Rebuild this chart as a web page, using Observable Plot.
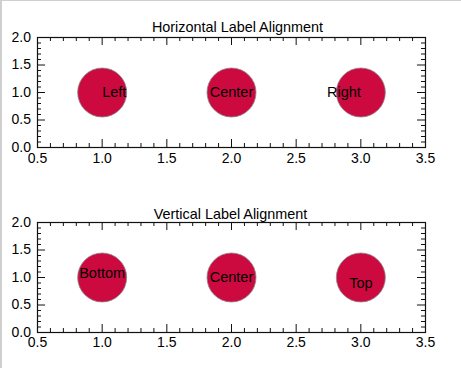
<!DOCTYPE html>
<html><head><meta charset="utf-8">
<script src="https://cdn.jsdelivr.net/npm/d3@7"></script>
<script src="https://cdn.jsdelivr.net/npm/@observablehq/plot@0.6"></script>
<style>
html,body{margin:0;padding:0;background:#fff;}
body{width:461px;height:368px;overflow:hidden;position:relative;}
#chart svg{display:block;}
#edge{position:absolute;left:0;top:0;width:461px;height:368px;box-sizing:border-box;border-top:1px solid #cfcfcf;border-left:2px solid #cfcfcf;pointer-events:none;}
</style></head><body><div id="chart"></div><div id="edge"></div>
<script>
// ---- data ----
const xs = [1.0, 2.0, 3.0];
const ys = [1.0, 1.0, 1.0];
const hLabels = ["Left", "Center", "Right"];
const hAnchors = ["start", "middle", "end"];
const vLabels = ["Bottom", "Center", "Top"];
const vAnchors = ["bottom", "middle", "top"];
const titles = ["Horizontal Label Alignment", "Vertical Label Alignment"];
const xDomain = [0.5, 3.5];
const yDomain = [0.0, 2.0];
const xMajor = [0.5, 1.0, 1.5, 2.0, 2.5, 3.0, 3.5];
const xMinor = [0.6, 0.7, 0.8, 0.9, 1.1, 1.2, 1.3, 1.4, 1.6, 1.7, 1.8, 1.9,
                2.1, 2.2, 2.3, 2.4, 2.6, 2.7, 2.8, 2.9, 3.1, 3.2, 3.3, 3.4];
const yMajor = [0.0, 0.5, 1.0, 1.5, 2.0];
const yMinor = [0.1, 0.2, 0.3, 0.4, 0.6, 0.7, 0.8, 0.9, 1.1, 1.2, 1.3, 1.4,
                1.6, 1.7, 1.8, 1.9];

const FONT = "'Liberation Sans', Arial, Helvetica, sans-serif";
const AX = "#111";
const FILL = "#cc0a40";

function panel(cfg) {
  const W = 461, H = 184;
  const frameH = H - cfg.mt - cfg.mb;
  const frameW = W - cfg.ml - cfg.mr;
  const MAJ = 8, MIN = 4;
  const labelMarks = [];
  for (let i = 0; i < xs.length; i++) {
    labelMarks.push(Plot.text([i], {
      x: j => xs[j], y: j => ys[j], text: j => cfg.labels[j],
      textAnchor: cfg.textAnchors ? cfg.textAnchors[i] : "middle",
      lineAnchor: cfg.lineAnchors ? cfg.lineAnchors[i] : "middle",
      fontSize: 14.5, fill: "#000"
    }));
  }
  return Plot.plot({
    width: W, height: H,
    marginLeft: cfg.ml, marginRight: cfg.mr, marginTop: cfg.mt, marginBottom: cfg.mb,
    style: {fontFamily: FONT, fontSize: "14px", color: "#000", background: "transparent", overflow: "visible"},
    x: {domain: xDomain},
    y: {domain: yDomain},
    marks: [
      Plot.dot(xs.map((x, i) => i), {x: i => xs[i], y: i => ys[i], r: 24.5, fill: FILL, stroke: "#8a8a8a", strokeWidth: 0.8}),
      ...labelMarks,
      // ticks inside the box on all four sides
      Plot.tickX(xMajor, {x: d => d, insetTop: frameH - MAJ, stroke: AX}),
      Plot.tickX(xMinor, {x: d => d, insetTop: frameH - MIN, stroke: AX}),
      Plot.tickX(xMajor, {x: d => d, insetBottom: frameH - MAJ, stroke: AX}),
      Plot.tickX(xMinor, {x: d => d, insetBottom: frameH - MIN, stroke: AX}),
      Plot.tickY(yMajor, {y: d => d, insetRight: frameW - MAJ, stroke: AX}),
      Plot.tickY(yMinor, {y: d => d, insetRight: frameW - MIN, stroke: AX}),
      Plot.tickY(yMajor, {y: d => d, insetLeft: frameW - MAJ, stroke: AX}),
      Plot.tickY(yMinor, {y: d => d, insetLeft: frameW - MIN, stroke: AX}),
      Plot.frame({stroke: AX, strokeWidth: 1.2}),
      Plot.axisX({ticks: xMajor, tickFormat: d3.format(".1f"), tickSize: 0, tickPadding: cfg.xPad, label: null, fontSize: 14, fill: "#000"}),
      Plot.axisY({ticks: yMajor, tickFormat: d3.format(".1f"), tickSize: 0, tickPadding: 6.5, label: null, fontSize: 14, fill: "#000"}),
      Plot.text([cfg.title], {frameAnchor: "top", lineAnchor: "bottom", dy: -cfg.titleGap, dx: cfg.titleDx, fontSize: 14.4, fill: "#000"})
    ]
  });
}

const chart = document.getElementById("chart");
chart.append(panel({title: titles[0], labels: hLabels, textAnchors: hAnchors, lineAnchors: null,
  ml: 37, mr: 36, mt: 37, mb: 37, xPad: 6, titleGap: 6, titleDx: 6}));
chart.append(panel({title: titles[1], labels: vLabels, textAnchors: null, lineAnchors: vAnchors,
  ml: 37, mr: 36, mt: 38, mb: 36, xPad: 5, titleGap: 3.5, titleDx: -1}));
</script>
</body></html>
